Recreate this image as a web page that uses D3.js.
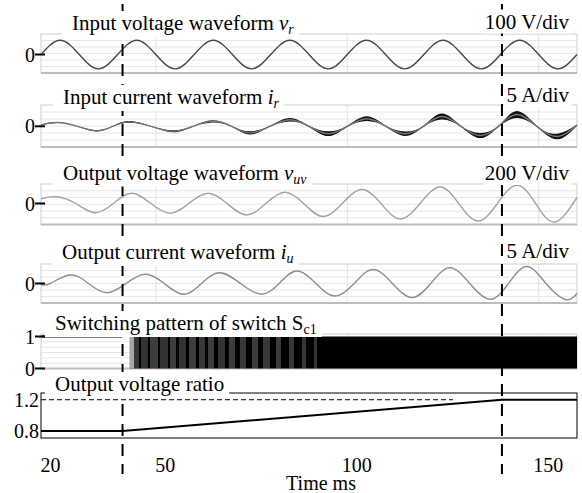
<!DOCTYPE html>
<html><head><meta charset="utf-8">
<script src="https://cdn.jsdelivr.net/npm/d3@7"></script>
<style>
body{margin:0;background:#fff}
svg{display:block}
text{font-family:"Liberation Serif","Times New Roman",serif;fill:#000}
</style>
</head><body>
<svg id="c" width="582" height="493"></svg>
<script>
// ---------------- DATA ----------------
const timeDomain = [20, 160];                 // ms
const xTickValues = [20, 50, 100, 150];
const xTickLabels = ["20", "50", "100", "150"];
const markerTimes = [41.3, 140.4];            // dashed event lines (ms)

// Input voltage v_r (V)
const vrTime  = [20,25,30,35,40,45,50,55,60,65,70,75,80,85,90,95,100,105,110,115,120,125,130,135,140,145,150,155,160];
const vrValue = [0,141,0,-141,0,141,0,-141,0,141,0,-141,0,141,0,-141,0,141,0,-141,0,141,0,-141,0,141,0,-141,0];

// Input current i_r (A) and its switching-ripple half width (A)
const irTime   = [20,24.4,29.5,34.6,38.8,43.0,48.7,54.5,59.7,64.9,69.8,74.6,79.8,85.0,90.0,95.0,100.0,105.1,110.1,115.1,119.9,124.7,129.7,134.7,139.5,144.3,149.5,154.8,160];
const irValue  = [0.7,1.9,0,-2.3,0,2.2,0,-2.5,0,2.5,0,-3.3,0,3.3,0,-3.7,0,3.8,0,-3.7,0,4.9,0,-4.6,0,5.9,0,-5.1,0.6];
const irRipple = [0.2,0.3,0.15,0.35,0.15,0.4,0.15,0.5,0.2,0.55,0.2,0.8,0.25,0.9,0.3,1.2,0.3,1.2,0.3,1.1,0.3,1.5,0.3,1.3,0.3,1.7,0.3,1.4,0.3];

// Output voltage v_uv (V)
const vuvTime  = [20,24.1,29.1,34.1,38.9,43.7,48.7,53.7,58.6,63.6,68.6,73.7,78.7,83.7,88.6,93.6,98.7,103.8,108.8,113.8,119.0,124.2,129.1,134.1,139.2,144.3,149.2,154.2,160];
const vuvValue = [90,136,0,-184,0,204,0,-196,0,204,0,-230,0,224,0,-260,0,280,0,-310,0,330,0,-350,0,365,0,-370,120];

// Output current i_u (A)
const iuTime  = [20,22.4,27.6,32.4,37.2,42.2,47.2,52.2,57.2,61.9,66.7,72.1,77.6,82.2,86.8,91.8,96.8,101.8,106.7,111.8,116.9,121.8,126.8,132.0,137.3,142.1,146.9,151.9,156.9,160];
const iuValue = [-0.6,0,4.25,0,-4.6,0,4.6,0,-5.4,0,5.4,0,-5.4,0,6.25,0,-6.25,0,7.0,0,-7.0,0,7.9,0,-7.9,0,8.5,0,-8.0,-5];

// Switching pattern of S_c1
const swHoldTime  = [20, 41.2];     // constant "1" before modulation
const swHoldValue = [1, 1];
const pwmStartTime = 43.2, pwmEndTime = 160;
// lighter stripes inside the dense PWM band: start (ms), end (ms), on-density
const stripeStart   = [43.24,44.29,46.12,48.47,51.08,53.69,56.04,58.65,61.26,63.61,66.23,69.10,71.97,75.11,77.98,81.37,84.77,88.16,91.30];
const stripeEnd     = [44.29,45.59,47.94,50.56,53.17,55.26,57.87,60.48,62.83,65.18,68.05,70.67,73.54,76.67,79.81,82.68,86.07,89.21,92.08];
const stripeDensity = [0.35,0.78,0.80,0.76,0.80,0.76,0.80,0.76,0.78,0.76,0.80,0.76,0.78,0.76,0.78,0.76,0.78,0.78,0.80];

// Output voltage ratio
const ratioTime  = [20, 41.3, 140.4, 160];
const ratioValue = [0.8, 0.8, 1.2, 1.2];
const ratioRefTime  = [20, 127.6];
const ratioRefValue = [1.2, 1.2];
const ratioTicks = [0.8, 1.2];
const ratioTickLabels = ["0.8", "1.2"];

// ---------------- DRAWING ----------------
const svg = d3.select("#c");
const L = 41, R = 577;
const x = d3.scaleLinear().domain(timeDomain).range([L, R]);

const gridLayer = svg.append("g");
const traceLayer = svg.append("g");
const markerLayer = svg.append("g");
const labelLayer = svg.append("g");

function gridPanel(frameTop, top, bottom) {
  const g = gridLayer.append("g");
  g.append("rect").attr("x", L).attr("y", frameTop).attr("width", R - L).attr("height", bottom - frameTop)
    .attr("fill", "#fff");
  const n = 6;
  for (let i = 1; i < n; i++) {
    const yy = top + (bottom - top) * i / n;
    g.append("line").attr("x1", L).attr("x2", R).attr("y1", yy).attr("y2", yy)
      .attr("stroke", "#e6e6e6").attr("stroke-width", 1);
  }
  xTickValues.slice(1).forEach(t => {
    g.append("line").attr("x1", x(t)).attr("x2", x(t)).attr("y1", frameTop).attr("y2", bottom)
      .attr("stroke", "#e3e3e3").attr("stroke-width", 1);
  });
  g.append("rect").attr("x", L).attr("y", frameTop).attr("width", R - L).attr("height", bottom - frameTop)
    .attr("fill", "none").attr("stroke", "#cdcdcd").attr("stroke-width", 1);
  g.append("line").attr("x1", L).attr("x2", R).attr("y1", bottom).attr("y2", bottom)
    .attr("stroke", "#bdbdbd").attr("stroke-width", 2);
}

function yTick(yy, label, withMark) {
  if (withMark) {
    labelLayer.append("line").attr("x1", 35).attr("x2", 45).attr("y1", yy).attr("y2", yy)
      .attr("stroke", "#000").attr("stroke-width", 2);
  }
  labelLayer.append("text").attr("x", withMark ? 35 : 39).attr("y", yy)
    .attr("text-anchor", "end").attr("dominant-baseline", "central")
    .attr("font-size", 20).text(label);
}

function title(xx, yy, parts) {
  const g = labelLayer.append("g");
  const t = g.append("text").attr("x", xx).attr("y", yy).attr("font-size", 21);
  parts.forEach(p => {
    const s = t.append("tspan").text(p.t);
    if (p.i) s.attr("font-style", "italic");
    if (p.sub) s.attr("font-size", 14).attr("dy", 4);
  });
  const bb = t.node().getBBox();
  g.insert("rect", "text").attr("x", bb.x - 10).attr("y", bb.y).attr("width", bb.width + 15)
    .attr("height", bb.height).attr("fill", "#fff");
}

function scaleLabel(yy, txt) {
  const g = labelLayer.append("g");
  const t = g.append("text").attr("x", 569).attr("y", yy).attr("text-anchor", "end")
    .attr("font-size", 21).text(txt);
  const bb = t.node().getBBox();
  g.insert("rect", "text").attr("x", bb.x - 2).attr("y", bb.y).attr("width", bb.width + 4)
    .attr("height", bb.height).attr("fill", "#fff");
}

function zip(ts, vs) { return ts.map((t, i) => ({t, v: vs[i]})); }

// panel 1: v_r
{
  const top = 34, bottom = 73;
  const y = d3.scaleLinear().domain([-182, 202]).range([bottom, top]);
  gridPanel(top, top, bottom);
  traceLayer.append("path").datum(zip(vrTime, vrValue))
    .attr("d", d3.line().x(d => x(d.t)).y(d => y(d.v)).curve(d3.curveNatural))
    .attr("fill", "none").attr("stroke", "#474747").attr("stroke-width", 1.4);
  yTick(y(0), "0", true);
  title(72, 30, [{t: "Input voltage waveform "}, {t: "v", i: true}, {t: "r", i: true, sub: true}]);
  scaleLabel(28.5, "100 V/div");
}
// panel 2: i_r
{
  const top = 105, bottom = 147;
  const y = d3.scaleLinear().domain([-10.35, 10.65]).range([bottom, top]);
  gridPanel(top, top, bottom);
  const data = irTime.map((t, i) => ({t, v: irValue[i], r: irRipple[i]}));
  traceLayer.append("path").datum(data)
    .attr("d", d3.area().x(d => x(d.t)).y0(d => y(d.v - d.r)).y1(d => y(d.v + d.r)).curve(d3.curveNatural))
    .attr("fill", "#111");
  traceLayer.append("path").datum(data)
    .attr("d", d3.line().x(d => x(d.t)).y(d => y(d.v)).curve(d3.curveNatural))
    .attr("fill", "none").attr("stroke", "#777").attr("stroke-width", 1.4);
  yTick(y(0), "0", true);
  title(63, 104, [{t: "Input current waveform "}, {t: "i", i: true}, {t: "r", i: true, sub: true}]);
  scaleLabel(102, "5 A/div");
}
// panel 3: v_uv
{
  const top = 184, bottom = 224.5;
  const y = d3.scaleLinear().domain([-420, 390]).range([bottom, top]);
  gridPanel(top, top, bottom);
  traceLayer.append("path").datum(zip(vuvTime, vuvValue))
    .attr("d", d3.line().x(d => x(d.t)).y(d => y(d.v)).curve(d3.curveNatural))
    .attr("fill", "none").attr("stroke", "#a3a3a3").attr("stroke-width", 1.4);
  yTick(y(0), "0", true);
  title(63, 179.5, [{t: "Output voltage waveform "}, {t: "v", i: true}, {t: "uv", i: true, sub: true}]);
  scaleLabel(180, "200 V/div");
}
// panel 4: i_u
{
  const top = 264, bottom = 303;
  const y = d3.scaleLinear().domain([-9.75, 9.75]).range([bottom, top]);
  gridPanel(top, top, bottom);
  traceLayer.append("path").datum(zip(iuTime, iuValue))
    .attr("d", d3.line().x(d => x(d.t)).y(d => y(d.v)).curve(d3.curveNatural))
    .attr("fill", "none").attr("stroke", "#8f8f8f").attr("stroke-width", 1.4);
  yTick(y(0), "0", true);
  title(62, 259, [{t: "Output current waveform "}, {t: "i", i: true}, {t: "u", i: true, sub: true}]);
  scaleLabel(258, "5 A/div");
}
// panel 5: switching
{
  const top = 336.5, bottom = 368.5;
  const y = d3.scaleLinear().domain([0, 1]).range([bottom, top]);
  gridPanel(334, top, bottom);
  traceLayer.append("path").datum(zip(swHoldTime, swHoldValue))
    .attr("d", d3.line().x(d => x(d.t)).y(d => y(d.v)))
    .attr("fill", "none").attr("stroke", "#000").attr("stroke-width", 2);
  traceLayer.append("rect").attr("x", x(pwmStartTime)).attr("width", x(pwmEndTime) - x(pwmStartTime))
    .attr("y", y(1)).attr("height", y(0) - y(1)).attr("fill", "#000");
  stripeStart.forEach((s, i) => {
    traceLayer.append("rect").attr("x", x(s)).attr("width", x(stripeEnd[i]) - x(s))
      .attr("y", y(1)).attr("height", y(0) - y(1))
      .attr("fill", "#fff").attr("opacity", 1 - stripeDensity[i]);
  });
  yTick(y(1), "1", true);
  yTick(y(0), "0", true);
  title(55, 330, [{t: "Switching pattern of switch S"}, {t: "c1", sub: true}]);
}
// panel 6: ratio
{
  const top = 393, bottom = 438;
  const y = d3.scaleLinear().domain([0.71, 1.286]).range([bottom, top]);
  gridLayer.append("rect").attr("x", L).attr("y", top).attr("width", R - L).attr("height", bottom - top)
    .attr("fill", "#fff").attr("stroke", "#000").attr("stroke-width", 1);
  traceLayer.append("path").datum(zip(ratioRefTime, ratioRefValue))
    .attr("d", d3.line().x(d => x(d.t)).y(d => y(d.v)))
    .attr("fill", "none").attr("stroke", "#000").attr("stroke-width", 1).attr("stroke-dasharray", "5,3");
  traceLayer.append("path").datum(zip(ratioTime, ratioValue))
    .attr("d", d3.line().x(d => x(d.t)).y(d => y(d.v)))
    .attr("fill", "none").attr("stroke", "#000").attr("stroke-width", 2);
  ratioTicks.forEach((v, i) => yTick(y(v), ratioTickLabels[i], false));
  title(55, 391, [{t: "Output voltage ratio"}]);
}

// event markers
markerTimes.forEach(t => {
  markerLayer.append("line").attr("x1", x(t)).attr("x2", x(t)).attr("y1", 4).attr("y2", 474)
    .attr("stroke", "#000").attr("stroke-width", 2).attr("stroke-dasharray", "12,8");
});
labelLayer.raise();

// x axis labels (label row sits slightly right of the grid positions, as in the original)
const xAxis = d3.axisBottom(x).tickValues(xTickValues).tickFormat((d, i) => xTickLabels[i]).tickSize(0);
const ax = svg.append("g").attr("transform", "translate(9,455)").call(xAxis);
ax.select(".domain").remove();
ax.selectAll("text").attr("font-size", 20).attr("font-family", "Liberation Serif, serif").attr("fill", "#000");

svg.append("text").attr("x", 321).attr("y", 490).attr("text-anchor", "middle")
  .attr("font-size", 20).text("Time ms");
</script>
</body></html>
